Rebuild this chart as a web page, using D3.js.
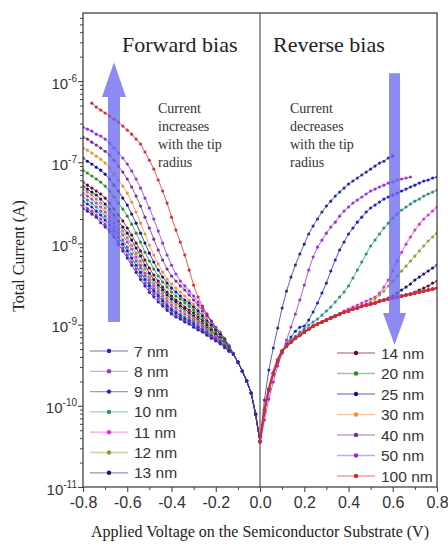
<!DOCTYPE html>
<html>
<head>
<meta charset="utf-8">
<script src="https://cdn.jsdelivr.net/npm/d3@7/dist/d3.min.js"></script>
<style>
html,body{margin:0;padding:0;background:#fff;}
svg{display:block;}
</style>
</head>
<body>
<svg id="chart" width="448" height="547"></svg>
<script>
// ---------------- DATA ----------------
const radii = ["7 nm","8 nm","9 nm","10 nm","11 nm","12 nm","13 nm","14 nm","20 nm","25 nm","30 nm","40 nm","50 nm","100 nm"];
const colors = ["#2b2b9e","#a030d8","#2020c8","#2a9080","#e030e0","#9a9a30","#141470","#6a0a20","#2a8a2a","#10109a","#f0922a","#7a2a90","#8a30f0","#e02828"];

// forward bias voltages (V)
const fwdVoltage = [-0.8,-0.78,-0.76,-0.74,-0.72,-0.7,-0.68,-0.66,-0.64,-0.62,-0.6,-0.58,-0.56,-0.54,-0.52,-0.5,-0.48,-0.46,-0.44,-0.42,-0.4,-0.38,-0.36,-0.34,-0.32,-0.3,-0.28,-0.26,-0.24,-0.22,-0.2,-0.18,-0.16,-0.14,-0.12,-0.1,-0.08,-0.06,-0.04,-0.02,0];
// reverse bias voltages (V)
const revVoltage = [0,0.02,0.04,0.06,0.08,0.1,0.12,0.14,0.16,0.18,0.2,0.22,0.24,0.26,0.28,0.3,0.32,0.34,0.36,0.38,0.4,0.42,0.44,0.46,0.48,0.5,0.52,0.54,0.56,0.58,0.6,0.62,0.64,0.66,0.68,0.7,0.72,0.74,0.76,0.78,0.8];

// forward currents (A), -0.8 .. -0.14 V
const fwd7  = [2.7e-8,2.5e-8,2.3e-8,2.1e-8,1.8e-8,1.6e-8,1.4e-8,1.2e-8,9.8e-9,8.1e-9,6.6e-9,5.4e-9,4.4e-9,3.6e-9,3.0e-9,2.5e-9,2.2e-9,1.9e-9,1.7e-9,1.5e-9,1.35e-9,1.24e-9,1.17e-9,1.08e-9,1.02e-9,9.3e-10,8.6e-10,8.1e-10,7.4e-10,6.8e-10,6.3e-10,5.8e-10,5.2e-10,4.7e-10];
const fwd8  = [3.0e-8,2.7e-8,2.5e-8,2.24e-8,2.0e-8,1.73e-8,1.5e-8,1.27e-8,1.07e-8,8.8e-9,7.2e-9,5.9e-9,4.84e-9,3.97e-9,3.25e-9,2.74e-9,2.38e-9,2.07e-9,1.79e-9,1.6e-9,1.43e-9,1.31e-9,1.21e-9,1.11e-9,1.05e-9,9.6e-10,8.8e-10,8.3e-10,7.7e-10,7.0e-10,6.5e-10,5.9e-10,5.3e-10,4.7e-10];
const fwd9  = [3.32e-8,3.06e-8,2.81e-8,2.5e-8,2.24e-8,1.94e-8,1.69e-8,1.42e-8,1.2e-8,9.8e-9,8.1e-9,6.6e-9,5.4e-9,4.4e-9,3.6e-9,3.0e-9,2.59e-9,2.25e-9,1.95e-9,1.69e-9,1.51e-9,1.39e-9,1.28e-9,1.17e-9,1.11e-9,1.02e-9,9.3e-10,8.6e-10,7.9e-10,7.2e-10,6.6e-10,6.1e-10,5.45e-10,4.86e-10];
const fwd10 = [3.73e-8,3.42e-8,3.14e-8,2.81e-8,2.5e-8,2.17e-8,1.89e-8,1.59e-8,1.34e-8,1.1e-8,9.0e-9,7.4e-9,6.07e-9,4.98e-9,3.97e-9,3.25e-9,2.74e-9,2.38e-9,2.07e-9,1.79e-9,1.6e-9,1.47e-9,1.35e-9,1.24e-9,1.17e-9,1.08e-9,9.9e-10,9.1e-10,8.3e-10,7.4e-10,6.8e-10,6.3e-10,5.6e-10,4.9e-10];
const fwd11 = [4.17e-8,3.83e-8,3.52e-8,3.14e-8,2.81e-8,2.44e-8,2.11e-8,1.78e-8,1.5e-8,1.27e-8,1.04e-8,8.5e-9,6.8e-9,5.4e-9,4.3e-9,3.54e-9,3.0e-9,2.59e-9,2.25e-9,1.95e-9,1.74e-9,1.6e-9,1.47e-9,1.35e-9,1.24e-9,1.14e-9,1.05e-9,9.6e-10,8.6e-10,7.6e-10,7.0e-10,6.5e-10,5.8e-10,5.0e-10];
const fwd12 = [4.67e-8,4.29e-8,3.95e-8,3.52e-8,3.14e-8,2.73e-8,2.37e-8,2.0e-8,1.69e-8,1.42e-8,1.17e-8,9.5e-9,7.6e-9,6.07e-9,4.84e-9,3.85e-9,3.25e-9,2.82e-9,2.45e-9,2.13e-9,1.9e-9,1.74e-9,1.6e-9,1.47e-9,1.31e-9,1.21e-9,1.11e-9,9.9e-10,8.8e-10,8.1e-10,7.2e-10,6.6e-10,5.8e-10,5.0e-10];
const fwd13 = [5.09e-8,4.67e-8,4.29e-8,3.95e-8,3.52e-8,3.06e-8,2.65e-8,2.24e-8,1.89e-8,1.59e-8,1.34e-8,1.1e-8,8.8e-9,7.0e-9,5.4e-9,4.3e-9,3.6e-9,3.07e-9,2.67e-9,2.32e-9,2.07e-9,1.9e-9,1.69e-9,1.56e-9,1.39e-9,1.28e-9,1.14e-9,1.02e-9,9.1e-10,8.3e-10,7.4e-10,6.8e-10,5.9e-10,5.15e-10];
const fwd14 = [5.7e-8,5.23e-8,4.81e-8,4.42e-8,4.06e-8,3.62e-8,3.14e-8,2.65e-8,2.24e-8,1.89e-8,1.55e-8,1.27e-8,1.01e-8,8.1e-9,6.25e-9,4.98e-9,4.08e-9,3.44e-9,2.9e-9,2.52e-9,2.25e-9,2.01e-9,1.85e-9,1.65e-9,1.51e-9,1.39e-9,1.24e-9,1.11e-9,9.9e-10,8.6e-10,7.6e-10,6.8e-10,5.9e-10,5.15e-10];
const fwd20 = [8.0e-8,7.37e-8,6.77e-8,6.22e-8,5.7e-8,5.09e-8,4.42e-8,3.73e-8,3.14e-8,2.65e-8,2.17e-8,1.73e-8,1.34e-8,1.04e-8,7.8e-9,6.07e-9,4.84e-9,3.97e-9,3.35e-9,2.9e-9,2.52e-9,2.25e-9,2.07e-9,1.85e-9,1.69e-9,1.51e-9,1.35e-9,1.17e-9,1.05e-9,9.1e-10,8.1e-10,7.2e-10,6.3e-10,5.3e-10];
const fwd25 = [1.13e-7,1.03e-7,9.5e-8,8.7e-8,8.0e-8,7.14e-8,6.22e-8,5.23e-8,4.42e-8,3.62e-8,2.97e-8,2.3e-8,1.78e-8,1.34e-8,1.01e-8,7.6e-9,5.9e-9,4.7e-9,3.85e-9,3.25e-9,2.82e-9,2.52e-9,2.25e-9,2.01e-9,1.85e-9,1.65e-9,1.47e-9,1.28e-9,1.11e-9,9.9e-10,8.6e-10,7.6e-10,6.5e-10,5.3e-10];
const fwd30 = [1.5e-7,1.41e-7,1.3e-7,1.19e-7,1.09e-7,9.8e-8,8.5e-8,7.14e-8,6.04e-8,5.09e-8,4.17e-8,3.23e-8,2.44e-8,1.78e-8,1.31e-8,9.5e-9,7.2e-9,5.6e-9,4.44e-9,3.64e-9,3.16e-9,2.82e-9,2.52e-9,2.25e-9,2.01e-9,1.79e-9,1.56e-9,1.35e-9,1.17e-9,1.02e-9,8.8e-10,7.9e-10,6.6e-10,5.45e-10];
const fwd40 = [2.04e-7,1.93e-7,1.77e-7,1.63e-7,1.5e-7,1.37e-7,1.23e-7,1.06e-7,8.95e-8,7.57e-8,6.22e-8,4.95e-8,3.83e-8,2.89e-8,2.11e-8,1.55e-8,1.13e-8,8.3e-9,6.25e-9,4.84e-9,3.97e-9,3.44e-9,3.0e-9,2.67e-9,2.32e-9,2.01e-9,1.74e-9,1.47e-9,1.28e-9,1.11e-9,9.3e-10,8.1e-10,6.8e-10,5.45e-10];
const fwd50 = [2.71e-7,2.56e-7,2.42e-7,2.22e-7,2.1e-7,1.93e-7,1.72e-7,1.5e-7,1.3e-7,1.13e-7,9.5e-8,7.8e-8,6.22e-8,4.81e-8,3.62e-8,2.73e-8,2.0e-8,1.42e-8,1.01e-8,7.2e-9,5.4e-9,4.2e-9,3.44e-9,3.0e-9,2.59e-9,2.25e-9,1.9e-9,1.6e-9,1.35e-9,1.11e-9,9.1e-10,7.9e-10,6.6e-10,5.6e-10];
// 100 nm starts at -0.76 V
const fwd100 = [5.35e-7,4.78e-7,4.39e-7,4.04e-7,3.71e-7,3.4e-7,3.12e-7,2.79e-7,2.49e-7,2.22e-7,1.93e-7,1.68e-7,1.34e-7,1.06e-7,8.24e-8,6.04e-8,4.42e-8,3.14e-8,2.11e-8,1.46e-8,1.04e-8,7.2e-9,4.7e-9,3.07e-9,2.19e-9,1.69e-9,1.35e-9,1.08e-9,8.8e-10,7.6e-10,6.5e-10,5.45e-10];
// common forward tail, -0.12 .. 0 V
const fwdTail = [4.35e-10,3.46e-10,2.68e-10,2.02e-10,1.44e-10,7.9e-11,3.6e-11];

// reverse currents (A)
const rev7 = [3.6e-11,1.18e-10,2.76e-10,5.15e-10,9.1e-10,1.6e-9,2.59e-9,3.85e-9,5.42e-9,7.4e-9,9.8e-9,1.31e-8,1.64e-8,2.0e-8,2.44e-8,2.89e-8,3.32e-8,3.83e-8,4.29e-8,4.81e-8,5.39e-8,5.87e-8,6.39e-8,6.96e-8,7.57e-8,8.24e-8,8.97e-8,9.77e-8,1.03e-7,1.13e-7,1.19e-7];
const rev8 = [3.6e-11,6.7e-11,1.21e-10,1.96e-10,3.09e-10,4.47e-10,6.45e-10,9.34e-10,1.35e-9,2.01e-9,3.07e-9,4.7e-9,6.8e-9,9.0e-9,1.1e-8,1.34e-8,1.59e-8,1.83e-8,2.17e-8,2.51e-8,2.81e-8,3.14e-8,3.42e-8,3.73e-8,4.06e-8,4.42e-8,4.67e-8,4.95e-8,5.23e-8,5.54e-8,5.7e-8,6.04e-8,6.22e-8,6.39e-8,6.58e-8];
const rev9 = [3.6e-11,8.4e-11,1.52e-10,2.4e-10,3.46e-10,4.6e-10,5.77e-10,7.04e-10,8.3e-10,9.3e-10,9.6e-10,1.14e-9,1.43e-9,1.85e-9,2.45e-9,3.25e-9,4.57e-9,6.25e-9,8.3e-9,1.04e-8,1.31e-8,1.55e-8,1.83e-8,2.11e-8,2.44e-8,2.73e-8,2.97e-8,3.23e-8,3.52e-8,3.73e-8,3.95e-8,4.17e-8,4.42e-8,4.67e-8,4.95e-8,5.23e-8,5.54e-8,5.87e-8,6.04e-8,6.39e-8,6.58e-8];
const rev10 = [3.6e-11,8.6e-11,1.57e-10,2.46e-10,3.56e-10,4.73e-10,5.6e-10,6.45e-10,7.2e-10,8.1e-10,8.8e-10,9.9e-10,1.08e-9,1.17e-9,1.31e-9,1.47e-9,1.65e-9,1.9e-9,2.19e-9,2.52e-9,2.99e-9,3.75e-9,4.7e-9,5.9e-9,7.4e-9,9.3e-9,1.1e-8,1.31e-8,1.55e-8,1.78e-8,2.06e-8,2.3e-8,2.58e-8,2.81e-8,3.06e-8,3.32e-8,3.52e-8,3.83e-8,4.06e-8,4.29e-8,4.54e-8];
// shared low-current envelope of the larger tips, 0 .. 0.8 V
const revEnvelope = [3.6e-11,8.9e-11,1.61e-10,2.54e-10,3.66e-10,4.73e-10,5.45e-10,6.1e-10,6.8e-10,7.4e-10,8.1e-10,8.8e-10,9.6e-10,1.02e-9,1.08e-9,1.14e-9,1.21e-9,1.28e-9,1.35e-9,1.43e-9,1.47e-9,1.56e-9,1.6e-9,1.69e-9,1.74e-9,1.79e-9,1.85e-9,1.95e-9,2.01e-9,2.07e-9,2.13e-9,2.19e-9,2.25e-9,2.32e-9,2.38e-9,2.45e-9,2.52e-9,2.59e-9,2.67e-9,2.74e-9,2.82e-9];
// departures from the envelope
const rev11Tail = [1.47e-9,1.56e-9,1.65e-9,1.74e-9,1.85e-9,1.95e-9,2.07e-9,2.19e-9,2.45e-9,2.9e-9,3.54e-9,4.57e-9,6.07e-9,7.8e-9,9.8e-9,1.2e-8,1.46e-8,1.73e-8,2.0e-8,2.24e-8,2.51e-8,2.81e-8]; // from 0.38 V
const rev12Tail = [1.79e-9,1.9e-9,2.07e-9,2.32e-9,2.59e-9,2.99e-9,3.44e-9,3.97e-9,4.57e-9,5.26e-9,6.07e-9,6.99e-9,8.07e-9,9.3e-9,1.07e-8,1.2e-8,1.34e-8]; // from 0.48 V
const rev13Tail = [2.13e-9,2.25e-9,2.45e-9,2.67e-9,2.9e-9,3.16e-9,3.54e-9,3.85e-9,4.2e-9,4.57e-9,4.98e-9,5.42e-9]; // from 0.58 V
const rev14Tail = [2.52e-9,2.67e-9,2.82e-9,2.99e-9,3.25e-9,3.44e-9]; // from 0.70 V

const xMajorTicks = [-0.8,-0.6,-0.4,-0.2,0,0.2,0.4,0.6,0.8];
const xMinorTicks = [-0.7,-0.5,-0.3,-0.1,0.1,0.3,0.5,0.7];
const yMajorTicks = [1e-11,1e-10,1e-9,1e-8,1e-7,1e-6];
const yTickExponents = ["-11","-10","-9","-8","-7","-6"];

// ---------------- ASSEMBLE SERIES ----------------
const forwardCurrents = [fwd7,fwd8,fwd9,fwd10,fwd11,fwd12,fwd13,fwd14,fwd20,fwd25,fwd30,fwd40,fwd50,fwd100].map(a => a.concat(fwdTail));
const reverseCurrents = [
  rev7, rev8, rev9, rev10,
  revEnvelope.slice(0,19).concat(rev11Tail),
  revEnvelope.slice(0,24).concat(rev12Tail),
  revEnvelope.slice(0,29).concat(rev13Tail),
  revEnvelope.slice(0,35).concat(rev14Tail),
  revEnvelope, revEnvelope, revEnvelope, revEnvelope, revEnvelope, revEnvelope
];
const series = radii.map((name, k) => {
  const fI = forwardCurrents[k];
  const fV = fwdVoltage.slice(fwdVoltage.length - fI.length);
  const rI = reverseCurrents[k];
  const rV = revVoltage.slice(0, rI.length);
  return {
    name, color: colors[k],
    fwd: fI.map((c,i) => ({v: fV[i], c})),
    rev: rI.map((c,i) => ({v: rV[i], c}))
  };
});

// ---------------- DRAW ----------------
const svg = d3.select("#chart");
const L = 83, R = 437, T = 13, B = 487;
const x = d3.scaleLinear().domain([-0.8, 0.8]).range([L, R]);
const y = d3.scaleLog().domain([1e-11, 6.9e-6]).range([B, T]);
const serif = "'Liberation Serif','Times New Roman',serif";
const sans = "'Liberation Sans',Arial,sans-serif";
const axisColor = "#444";

svg.append("rect").attr("width",448).attr("height",547).attr("fill","#fff");
svg.append("defs").append("clipPath").attr("id","plotclip")
  .append("rect").attr("x",L).attr("y",T).attr("width",R-L).attr("height",B-T);

// zero line
svg.append("line").attr("x1",x(0)).attr("x2",x(0)).attr("y1",T).attr("y2",B)
  .attr("stroke","#555").attr("stroke-width",1.2);

const plot = svg.append("g").attr("clip-path","url(#plotclip)");
const line = d3.line().x(d => x(d.v)).y(d => y(d.c));

function drawCurve(points, color, width, r) {
  const g = plot.append("g");
  g.append("path").datum(points).attr("d", line)
    .attr("fill","none").attr("stroke",color).attr("stroke-width",width).attr("stroke-opacity",0.85);
  g.selectAll("circle").data(points).join("circle")
    .attr("cx", d => x(d.v)).attr("cy", d => y(d.c)).attr("r", r).attr("fill", color);
}
// forward: largest tip drawn first, smallest on top
series.slice().reverse().forEach(s => drawCurve(s.fwd, s.color, 0.9, 1.55));
// reverse: smallest first, 100 nm on top
series.forEach((s,k) => drawCurve(s.rev, s.color, k === series.length-1 ? 2.4 : 0.9, 1.55));

// arrows (in data coordinates)
const arrows = [
  {v:-0.66, tail:1.08e-9, head:1.71e-6, base:6.35e-7},
  {v:0.608, tail:1.25e-6, head:5.6e-10, base:1.39e-9}
];
const shaftHalf = [6, 5.5], headHalf = [12, 11.5];
arrows.forEach((a, k) => {
  const cx = x(a.v), yt = y(a.tail), yh = y(a.head), yb = y(a.base);
  const s = shaftHalf[k], h = headHalf[k];
  const p = d3.path();
  p.moveTo(cx - s, yt); p.lineTo(cx - s, yb); p.lineTo(cx - h, yb); p.lineTo(cx, yh);
  p.lineTo(cx + h, yb); p.lineTo(cx + s, yb); p.lineTo(cx + s, yt); p.closePath();
  svg.append("path").attr("d", p.toString()).attr("fill","#6a6aee").attr("fill-opacity",0.78);
});

// frame
svg.append("rect").attr("x",L).attr("y",T).attr("width",R-L).attr("height",B-T)
  .attr("fill","none").attr("stroke",axisColor).attr("stroke-width",1.3);

// x axis
const xAxis = svg.append("g").attr("transform",`translate(0,${B})`)
  .call(d3.axisBottom(x).tickValues(xMajorTicks).tickSize(5).tickPadding(5).tickFormat(d => d.toFixed(1)));
xAxis.select(".domain").remove();
xAxis.selectAll("line").attr("stroke",axisColor).attr("stroke-width",1.1);
xAxis.selectAll("text").attr("font-family",sans).attr("font-size",16).attr("fill","#333");
const xMinorAxis = svg.append("g").attr("transform",`translate(0,${B})`)
  .call(d3.axisBottom(x).tickValues(xMinorTicks).tickSize(3).tickFormat(""));
xMinorAxis.select(".domain").remove();
xMinorAxis.selectAll("line").attr("stroke",axisColor).attr("stroke-width",1);

// y axis
const yAxis = svg.append("g").attr("transform",`translate(${L},0)`)
  .call(d3.axisLeft(y).tickValues(yMajorTicks).tickSize(5).tickFormat(""));
yAxis.select(".domain").remove();
yAxis.selectAll("line").attr("stroke",axisColor).attr("stroke-width",1.1);
yAxis.selectAll(".tick").each(function(d, i) {
  const t = d3.select(this).append("text").attr("x",-6).attr("y",7)
    .attr("text-anchor","end").attr("font-family",sans).attr("fill","#333");
  t.append("tspan").attr("font-size",15).text("10");
  t.append("tspan").attr("font-size",10).attr("dy",-7).text(yTickExponents[i]);
});
const yMinor = [];
for (let e = -11; e <= -6; e++) for (let m = 2; m <= 9; m++) { const v = m * Math.pow(10, e); if (v < 6.9e-6) yMinor.push(v); }
const yMinorAxis = svg.append("g").attr("transform",`translate(${L},0)`)
  .call(d3.axisLeft(y).tickValues(yMinor).tickSize(3).tickFormat(""));
yMinorAxis.select(".domain").remove();
yMinorAxis.selectAll("line").attr("stroke",axisColor).attr("stroke-width",1);

// axis titles
svg.append("text").attr("transform","translate(24,256) rotate(-90)").attr("text-anchor","middle")
  .attr("font-family",serif).attr("font-size",16).attr("fill","#222").text("Total Current (A)");
svg.append("text").attr("x",260).attr("y",537).attr("text-anchor","middle")
  .attr("font-family",serif).attr("font-size",16).attr("fill","#222")
  .text("Applied Voltage on the Semiconductor Substrate (V)");

// region titles
svg.append("text").attr("x",122).attr("y",52).attr("font-family",serif).attr("font-size",22).attr("fill","#222").text("Forward bias");
svg.append("text").attr("x",273).attr("y",52).attr("font-family",serif).attr("font-size",22).attr("fill","#222").text("Reverse bias");

// annotations
const noteLeft = ["Current","increases","with the tip","radius"];
const noteRight = ["Current","decreases","with the tip","radius"];
noteLeft.forEach((t,i) => svg.append("text").attr("x",158).attr("y",113 + i*18)
  .attr("font-family",serif).attr("font-size",14).attr("fill","#333").text(t));
noteRight.forEach((t,i) => svg.append("text").attr("x",290).attr("y",113 + i*18)
  .attr("font-family",serif).attr("font-size",14).attr("fill","#333").text(t));

// legends
function legend(items, x0, y0, dy) {
  items.forEach((s, i) => {
    const yy = y0 + i*dy;
    const g = svg.append("g");
    g.append("line").attr("x1",x0).attr("x2",x0+38).attr("y1",yy).attr("y2",yy)
      .attr("stroke",s.color).attr("stroke-opacity",0.45).attr("stroke-width",1.3);
    g.append("circle").attr("cx",x0+19).attr("cy",yy).attr("r",2.2).attr("fill",s.color);
    g.append("text").attr("x",x0+44).attr("y",yy).attr("dy","0.36em")
      .attr("font-family",sans).attr("font-size",15.5).attr("fill","#333").text(s.name);
  });
}
legend(series.slice(0,7), 90, 351, 20.3);
legend(series.slice(7), 337, 353, 20.5);
</script>
</body>
</html>
